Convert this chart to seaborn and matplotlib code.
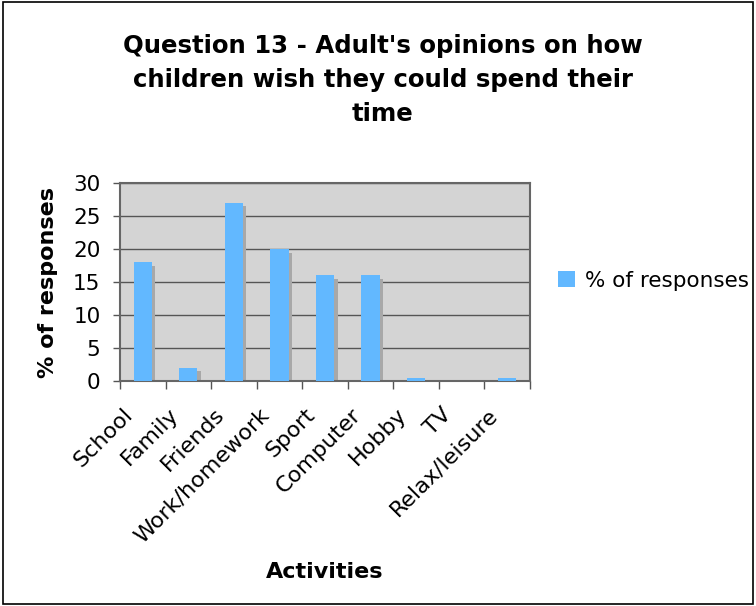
import matplotlib
matplotlib.use("Agg")
import matplotlib.pyplot as plt
import matplotlib.transforms as mtransforms
from matplotlib.patches import Rectangle, Patch
import seaborn as sns
import pandas as pd

categories = ["School", "Family", "Friends", "Work/homework", "Sport",
              "Computer", "Hobby", "TV", "Relax/leisure"]
values = [18, 2, 27, 20, 16, 16, 0.5, 0, 0.5]
yticks = [0, 5, 10, 15, 20, 25, 30]
series_name = "% of responses"

df = pd.DataFrame({"Activities": categories, series_name: values})

sns.set_style("white")
plt.rcParams["font.family"] = ["DejaVu Sans"]
plt.rcParams["text.color"] = "black"
plt.rcParams["axes.labelcolor"] = "black"
plt.rcParams["xtick.color"] = "black"
plt.rcParams["ytick.color"] = "black"

fig = plt.figure(figsize=(7.56, 6.06), dpi=100)
ax = fig.add_axes([0.1587, 0.3713, 0.5423, 0.3267])
ax.set_facecolor("#d4d4d4")

# shadow bars
sns.barplot(data=df, x="Activities", y=series_name, color="#a8a8a8",
            width=0.4, saturation=1, ax=ax, zorder=2)
shadow_patches = list(ax.patches)
off = mtransforms.offset_copy(ax.transData, fig=fig, x=3.5, y=-3.5, units="dots")
for p in shadow_patches:
    p.set_transform(off)
    p.set_linewidth(0)
    p.set_clip_on(True)

sns.barplot(data=df, x="Activities", y=series_name, color="#62b8ff",
            width=0.4, saturation=1, ax=ax, zorder=3)
for p in ax.patches[len(shadow_patches):]:
    p.set_linewidth(0)

ax.set_xlim(-0.5, len(categories) - 0.5)
ax.set_ylim(0, 30)
ax.set_yticks(yticks)
ax.set_yticklabels([str(t) for t in yticks], fontsize=15.5)
ax.yaxis.grid(True, color="#555555", linewidth=1, zorder=1)
ax.set_axisbelow(True)

# category boundary ticks
ax.set_xticks([i - 0.5 for i in range(len(categories) + 1)], minor=False)
ax.set_xticklabels([""] * (len(categories) + 1))
ax.set_xticks(range(len(categories)), minor=True)
ax.set_xticklabels(categories, minor=True, rotation=45, ha="right", va="center",
                   rotation_mode="anchor", fontsize=16)
ax.tick_params(axis="x", which="major", direction="out", length=6, color="#555555",
               width=1, bottom=True)
ax.tick_params(axis="x", which="minor", length=0, pad=14)
ax.tick_params(axis="y", direction="out", length=5, color="#555555", width=1, left=True, pad=9)
shift = mtransforms.ScaledTranslation(-13 / 100, -11 / 100, fig.dpi_scale_trans)
for lbl in ax.get_xticklabels(minor=True):
    lbl.set_transform(lbl.get_transform() + shift)

for s in ax.spines.values():
    s.set_color("#666666")
    s.set_linewidth(1.5)
    s.set_visible(True)

ax.set_xlabel("Activities", fontsize=16, fontweight="bold")
ax.set_ylabel("% of responses", fontsize=16, fontweight="bold")
ax.xaxis.set_label_coords(0.5, -0.965)
ax.yaxis.set_label_coords(-0.175, 0.5)
ax.xaxis.label.set_va("center")
ax.yaxis.label.set_va("center")

fig.suptitle("Question 13 - Adult's opinions on how\nchildren wish they could spend their\ntime",
             fontsize=17.6, fontweight="bold", x=0.506, y=0.944, linespacing=1.52)

handle = Patch(facecolor="#62b8ff", edgecolor="none")
fig.legend([handle], [series_name], loc="center left", bbox_to_anchor=(0.713, 0.537),
           frameon=False, fontsize=15.5, handlelength=0.78, handleheight=0.78,
           handletextpad=0.45)

fig.patches.append(Rectangle((0.004, 0.004), 0.992, 0.992, transform=fig.transFigure,
                             fill=False, edgecolor="black", linewidth=1.2))

fig.savefig("out.png", dpi=100)
